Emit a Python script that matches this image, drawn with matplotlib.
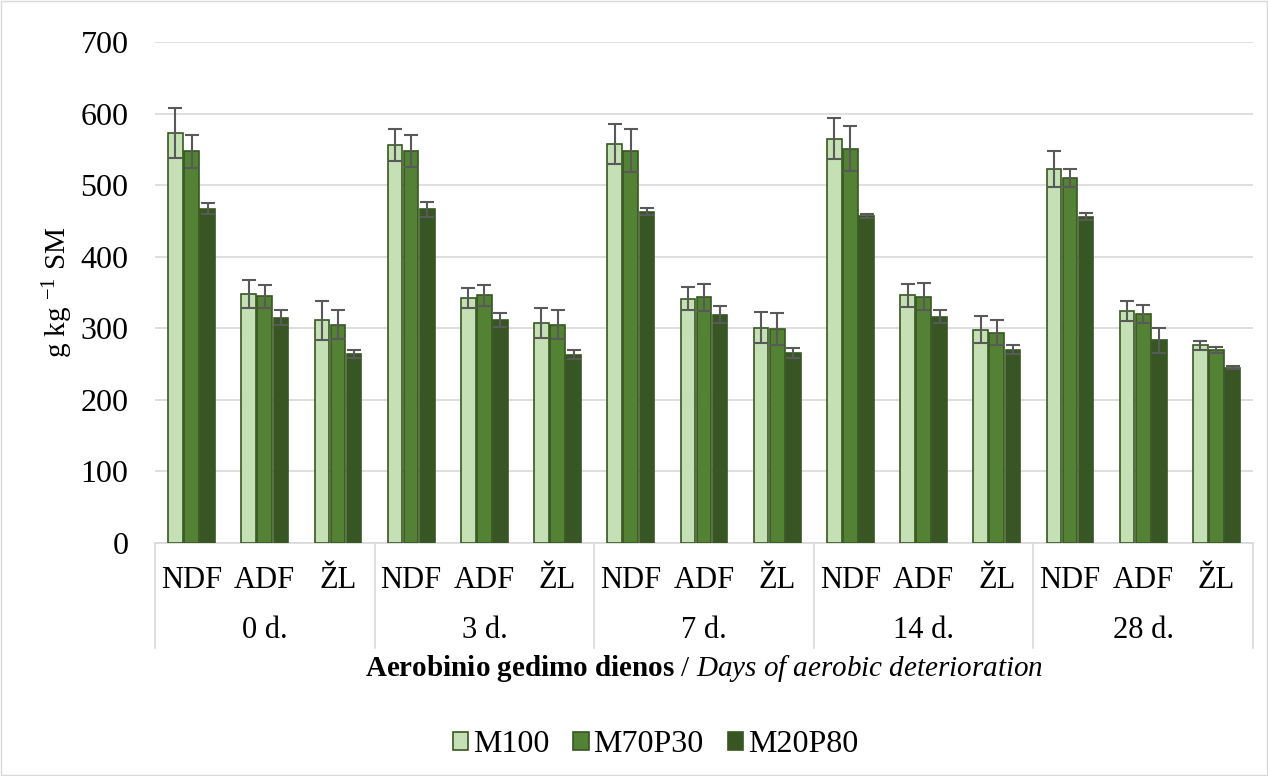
import matplotlib

matplotlib.use("Agg")
import matplotlib.pyplot as plt
import matplotlib.transforms as mtransforms
from matplotlib.patches import Rectangle
import numpy as np

plt.rcParams["font.family"] = ["Liberation Serif", "DejaVu Serif"]
plt.rcParams["mathtext.fontset"] = "custom"
plt.rcParams["mathtext.rm"] = "Liberation Serif"
plt.rcParams["mathtext.it"] = "Liberation Serif:italic"
plt.rcParams["mathtext.bf"] = "Liberation Serif:bold"

days = ["0 d.", "3 d.", "7 d.", "14 d.", "28 d."]
fractions = ["NDF", "ADF", "ŽL"]
series = ["M100", "M70P30", "M20P80"]

# values per day: NDF, ADF, ŽL
m100 = [573, 348, 311, 556, 342, 308, 557, 341, 301, 565, 346, 298, 523, 324, 276]
m70p30 = [547, 345, 305, 548, 346, 305, 548, 343, 299, 551, 344, 294, 510, 320, 270]
m20p80 = [467, 315, 264, 466, 312, 263, 463, 319, 266, 457, 316, 270, 456, 283, 245]

m100_err = [35, 19, 27, 22, 14, 21, 28, 16, 22, 29, 16, 19, 25, 14, 6]
m70p30_err = [23, 16, 20, 22, 15, 20, 30, 19, 23, 31, 19, 17, 13, 13, 4]
m20p80_err = [8, 11, 6, 10, 10, 6, 5, 12, 7, 3, 9, 6, 5, 18, 2]

colors = ["#C5E0B4", "#548235", "#375623"]
edge = "#385723"

fig = plt.figure(figsize=(12.68, 7.76), dpi=100)
ax = fig.add_axes([0.1222, 0.3003, 0.866, 0.6456])

x = np.arange(len(days) * len(fractions))
width = 0.2
offsets = [-0.22, 0.0, 0.22]
values = [m100, m70p30, m20p80]
errors = [m100_err, m70p30_err, m20p80_err]

for i in range(3):
    ax.bar(x + offsets[i], values[i], width, color=colors[i], edgecolor=edge,
           linewidth=1.2, label=series[i], zorder=3,
           yerr=errors[i], error_kw={"ecolor": "#595959", "elinewidth": 1.5,
                                     "capsize": 5, "capthick": 1.5})

ax.set_ylim(0, 700)
ax.set_xlim(-0.5, len(x) - 0.5)
ax.set_yticks(range(0, 701, 100))
ax.tick_params(axis="y", length=0, labelsize=23, pad=19)
ax.tick_params(axis="x", length=0, labelbottom=False)
ax.grid(axis="y", color="#D9D9D9", linewidth=1.2, zorder=0)
for side in ["left", "right", "top"]:
    ax.spines[side].set_visible(False)
ax.spines["bottom"].set_color("#D9D9D9")
ax.spines["bottom"].set_linewidth(1.2)

ax.set_ylabel("g kg $^{-1}$ SM", fontsize=21, labelpad=4)

# two-level category axis
trans = mtransforms.blended_transform_factory(ax.transData, ax.transAxes)
for i in range(len(x)):
    ax.text(x[i], -0.074, fractions[i % 3], transform=trans, ha="center",
            va="center", fontsize=22)
for d in range(len(days)):
    ax.text(d * 3 + 1, -0.174, days[d], transform=trans, ha="center",
            va="center", fontsize=22)
for d in range(len(days) + 1):
    ax.plot([d * 3 - 0.5, d * 3 - 0.5], [0, -0.21], transform=trans,
            color="#D9D9D9", linewidth=1.2, clip_on=False)

ax.text(0.5, -0.25,
        "$\\bf{Aerobinio\\ gedimo\\ dienos}$ / $\\it{Days\\ of\\ aerobic\\ deterioration}$",
        transform=ax.transAxes, ha="center", va="center", fontsize=21)

fig.legend(loc="center", bbox_to_anchor=(0.517, 0.04), ncol=3, frameon=False,
           fontsize=23, handlelength=0.48, handleheight=0.48, handletextpad=0.15,
           columnspacing=0.75)

fig.patches.append(Rectangle((0.001, 0.001), 0.998, 0.998, transform=fig.transFigure,
                             fill=False, edgecolor="#D9D9D9", linewidth=1))

fig.savefig("out.png", dpi=100)
